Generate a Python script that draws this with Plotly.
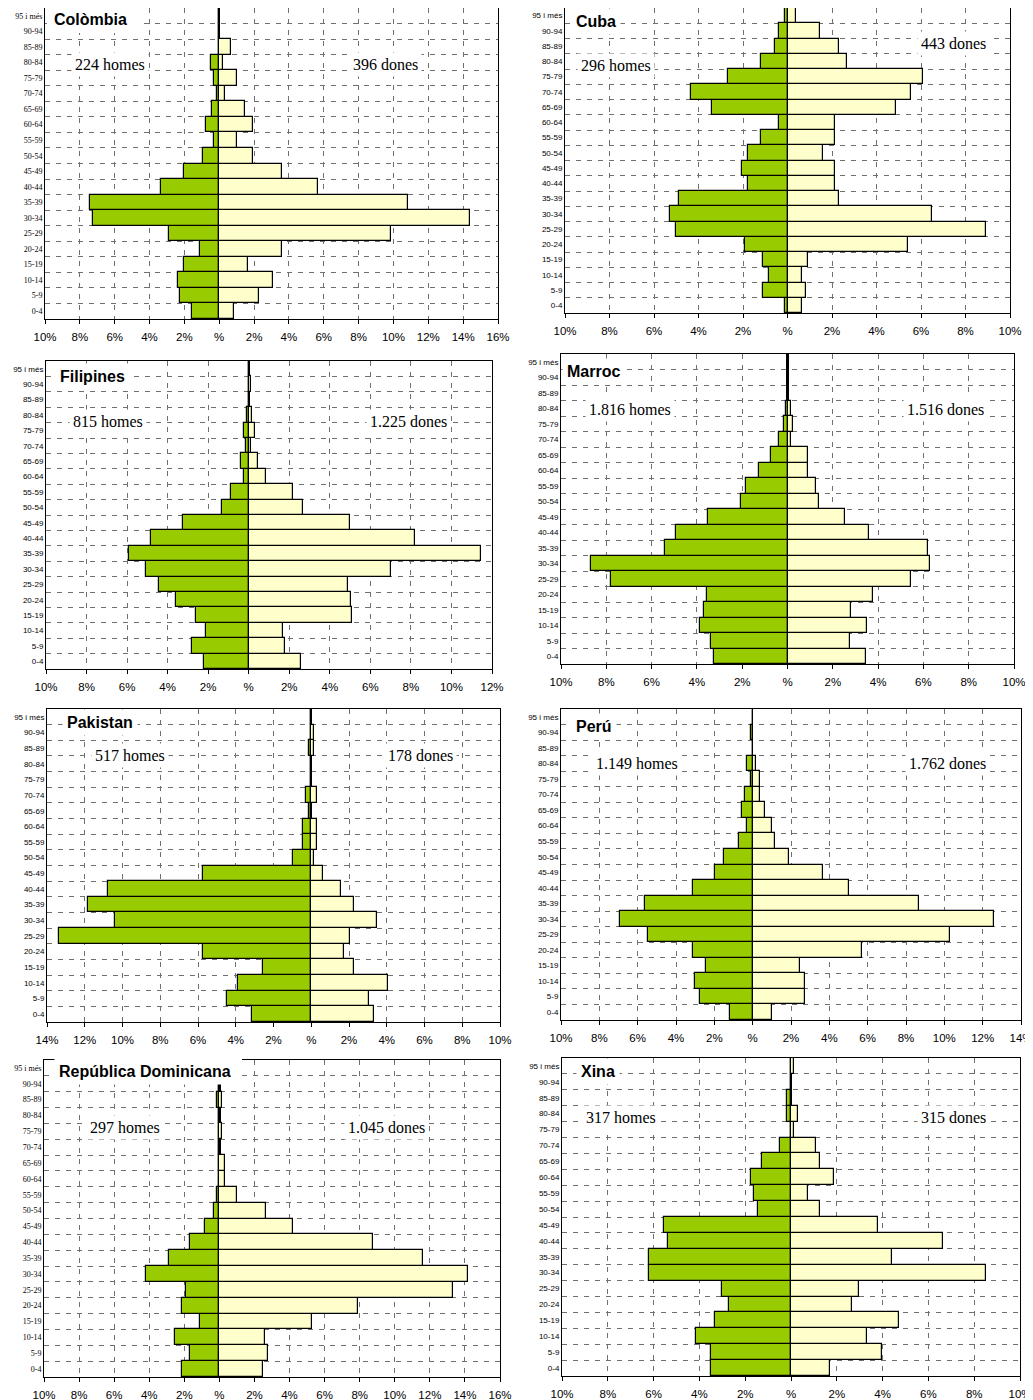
import plotly.graph_objects as go

# ---------------- DATA ----------------
edats = ["0-4", "5-9", "10-14", "15-19", "20-24", "25-29", "30-34", "35-39", "40-44",
         "45-49", "50-54", "55-59", "60-64", "65-69", "70-74", "75-79", "80-84",
         "85-89", "90-94", "95 i més"]

colombia_homes = [1.59, 2.24, 2.39, 2.05, 1.09, 2.87, 7.26, 7.41, 3.33, 2.05, 0.92, 0.29, 0.77, 0.44, 0.13, 0.29, 0.48, 0, 0, 0]
colombia_dones = [0.86, 2.26, 3.10, 1.63, 3.58, 9.86, 14.40, 10.84, 5.69, 3.58, 1.95, 1.00, 1.95, 1.49, 0.33, 1.01, 0.19, 0.67, 0, 0]

cuba_homes = [0.12, 1.08, 0.81, 1.08, 1.90, 5.01, 5.28, 4.88, 1.77, 2.03, 1.77, 1.21, 0.39, 3.40, 4.34, 2.69, 1.21, 0.54, 0.39, 0.12]
cuba_dones = [0.67, 0.81, 0.67, 0.93, 5.42, 8.93, 6.49, 2.30, 2.15, 2.15, 1.60, 2.15, 2.15, 4.86, 5.56, 6.09, 2.69, 2.30, 1.48, 0.40]

filipines_homes = [2.22, 2.81, 2.09, 2.59, 3.60, 4.42, 5.07, 5.89, 4.81, 3.23, 1.33, 0.87, 0.25, 0.39, 0.15, 0.25, 0.07, 0, 0, 0]
filipines_dones = [2.59, 1.81, 1.71, 5.11, 5.06, 4.91, 7.01, 11.48, 8.19, 4.99, 2.69, 2.20, 0.87, 0.48, 0.10, 0.31, 0.18, 0.07, 0.12, 0]

marroc_homes = [3.26, 3.37, 3.87, 3.69, 3.56, 7.81, 8.69, 5.41, 4.93, 3.53, 2.04, 1.84, 1.24, 0.71, 0.38, 0.15, 0.06, 0, 0, 0]
marroc_dones = [3.46, 2.74, 3.49, 2.79, 3.78, 5.44, 6.29, 6.19, 3.62, 2.54, 1.41, 1.25, 0.90, 0.90, 0.15, 0.26, 0.15, 0, 0, 0]

pakistan_homes = [3.14, 4.46, 3.88, 2.56, 5.74, 13.38, 10.38, 11.81, 10.78, 5.74, 0.99, 0.42, 0.42, 0.10, 0.28, 0, 0, 0.14, 0, 0]
pakistan_dones = [3.32, 3.04, 4.04, 2.29, 1.73, 2.03, 3.48, 2.29, 1.59, 0.60, 0.16, 0.30, 0.30, 0, 0.30, 0, 0, 0.16, 0.16, 0]

peru_homes = [1.16, 2.76, 2.99, 2.43, 3.13, 5.47, 6.91, 5.63, 3.09, 1.95, 1.51, 0.71, 0.31, 0.57, 0.38, 0.10, 0.28, 0, 0.08, 0]
peru_dones = [1.02, 2.71, 2.71, 2.48, 5.68, 10.30, 12.61, 8.67, 5.05, 3.68, 1.89, 1.16, 1.02, 0.63, 0.38, 0.40, 0.17, 0, 0, 0]

rdominicana_homes = [2.13, 1.69, 2.51, 1.10, 2.13, 1.92, 4.17, 2.87, 1.69, 0.80, 0.29, 0.13, 0, 0, 0, 0, 0, 0.12, 0, 0]
rdominicana_dones = [2.47, 2.78, 2.62, 5.29, 7.91, 13.33, 14.17, 11.62, 8.73, 4.20, 2.68, 0.99, 0.32, 0.32, 0, 0.15, 0, 0.15, 0, 0]

xina_homes = [3.48, 3.48, 4.13, 3.34, 2.70, 3.02, 6.18, 6.18, 5.39, 5.55, 1.43, 1.60, 1.75, 1.28, 0.48, 0, 0.16, 0.16, 0, 0]
xina_dones = [1.72, 3.96, 3.31, 4.72, 2.65, 2.97, 8.53, 4.40, 6.62, 3.78, 1.25, 0.76, 1.88, 1.25, 1.08, 0.15, 0.31, 0, 0, 0.15]

paisos = ["Colòmbia", "Cuba", "Filipines", "Marroc", "Pakistan", "Perú", "República Dominicana", "Xina"]
etiquetes_homes = ["224 homes", "296 homes", "815 homes", "1.816 homes", "517 homes", "1.149 homes", "297 homes", "317 homes"]
etiquetes_dones = ["396 dones", "443 dones", "1.225 dones", "1.516 dones", "178 dones", "1.762 dones", "1.045 dones", "315 dones"]
rang_x = [(-10, 16), (-10, 10), (-10, 12), (-10, 10), (-14, 10), (-10, 14), (-10, 16), (-10, 10)]

homes = [colombia_homes, cuba_homes, filipines_homes, marroc_homes,
         pakistan_homes, peru_homes, rdominicana_homes, xina_homes]
dones = [colombia_dones, cuba_dones, filipines_dones, marroc_dones,
         pakistan_dones, peru_dones, rdominicana_dones, xina_dones]

# ---------------- LAYOUT (pixel geometry in the page) ----------------
OFF = 8                      # default page margin around the figure
W, H = 1033 - OFF, 1400 - OFF
# plot area: left, right, top, bottom (page px)
areas = [(45, 498, 8, 319), (565, 1010, 8, 313),
         (46, 492, 361, 669), (561, 1014, 354, 664),
         (47, 500, 709, 1022), (561, 1021, 709, 1020),
         (44, 500, 1060, 1377), (562, 1020, 1058, 1376)]
# title (left x, center y), homes (center x, y), dones (center x, y)
pos_titol = [(49, 20), (571, 21), (55, 376), (562, 371), (62, 722), (571, 726), (54, 1071), (576, 1071)]
pos_homes = [(110, 64), (616, 66), (108, 421), (630, 410), (130, 755), (637, 763), (125, 1127), (621, 1117)]
pos_dones = [(385, 64), (953, 44), (408, 421), (945, 410), (420, 755), (947, 763), (386, 1127), (953, 1117)]
serif_y = [True, False, False, False, False, False, True, False]
zero_w = [1, 2, 2, 2.5, 1, 1, 2.5, 1]


def px(x):
    return min(1.0, max(0.0, (x - OFF) / W))


def py(y):
    return min(1.0, max(0.0, 1 - (y - OFF) / H))


VERD = "#99CC00"
GROC = "#FFFFCC"
GRID = "#707070"

fig = go.Figure()
annotations = []
shapes = []

for i, pais in enumerate(paisos):
    n = i + 1
    xa = "x" if n == 1 else f"x{n}"
    ya = "y" if n == 1 else f"y{n}"
    fig.add_trace(go.Bar(
        y=edats, x=[-v for v in homes[i]], orientation="h",
        marker=dict(color=VERD, line=dict(color="black", width=1.2)),
        xaxis=xa, yaxis=ya, showlegend=False, hoverinfo="skip"))
    fig.add_trace(go.Bar(
        y=edats, x=dones[i], orientation="h",
        marker=dict(color=GROC, line=dict(color="black", width=1.2)),
        xaxis=xa, yaxis=ya, showlegend=False, hoverinfo="skip"))

    l, r, t, b = areas[i]
    lo, hi = rang_x[i]
    tv = list(range(lo, hi + 1, 2))
    tt = [f"{abs(v)}%" if v != 0 else "%" for v in tv]
    xkey = "xaxis" if n == 1 else f"xaxis{n}"
    ykey = "yaxis" if n == 1 else f"yaxis{n}"
    fig.layout[xkey] = dict(
        domain=[px(l), px(r)], anchor=ya, range=[lo, hi], automargin=False,
        tickvals=tv, ticktext=tt, ticks="outside", ticklen=4, tickcolor="black",
        ticklabelstandoff=3,
        tickfont=dict(family="Liberation Sans, Arial", size=11.5, color="black"),
        showgrid=True, gridcolor=GRID, griddash="5px,6px", gridwidth=1,
        zeroline=True, zerolinecolor="black", zerolinewidth=zero_w[i],
        showline=True, linecolor="black", linewidth=1, mirror=True,
        fixedrange=True)
    fig.layout[ykey] = dict(
        domain=[py(b), py(t)], anchor=xa, type="category", automargin=False,
        categoryorder="array", categoryarray=edats, range=[-0.5, len(edats) - 0.5],
        tickson="boundaries", ticks="", showgrid=True, gridcolor=GRID,
        griddash="5px,6px", gridwidth=1,
        tickfont=dict(family=("Liberation Serif, Times New Roman" if serif_y[i] else "Liberation Sans, Arial"),
                      size=8, color="black"),
        showline=True, linecolor="black", linewidth=1, mirror=True,
        fixedrange=True)

    tx, ty = pos_titol[i]
    annotations.append(dict(
        text=f"<b>{pais}</b>", xref="paper", yref="paper",
        x=px(tx), y=py(ty), xanchor="left", yanchor="middle", showarrow=False,
        font=dict(family="Liberation Sans, Arial", size=16, color="black"),
        bgcolor="white", borderpad=4))
    hx, hy = pos_homes[i]
    annotations.append(dict(
        text=etiquetes_homes[i], xref="paper", yref="paper",
        x=px(hx), y=py(hy), xanchor="center", yanchor="middle", showarrow=False,
        font=dict(family="Liberation Serif, Times New Roman", size=16, color="black"),
        bgcolor="white", borderpad=3))
    dx, dy = pos_dones[i]
    annotations.append(dict(
        text=etiquetes_dones[i], xref="paper", yref="paper",
        x=px(dx), y=py(dy), xanchor="center", yanchor="middle", showarrow=False,
        font=dict(family="Liberation Serif, Times New Roman", size=16, color="black"),
        bgcolor="white", borderpad=3))

# white boxes behind titles that break the top border (Colòmbia, República Dominicana)
shapes.append(dict(type="rect", xref="paper", yref="paper", layer="above",
                   x0=px(47), x1=px(143), y0=py(33), y1=1.0,
                   fillcolor="white", line=dict(width=0)))
shapes.append(dict(type="rect", xref="paper", yref="paper", layer="above",
                   x0=px(55), x1=px(242), y0=py(1080), y1=py(1055),
                   fillcolor="white", line=dict(width=0)))

fig.update_layout(
    width=W, height=H, margin=dict(l=0, r=0, t=0, b=0, autoexpand=False),
    paper_bgcolor="white", plot_bgcolor="white",
    barmode="overlay", bargap=0,
    annotations=annotations, shapes=shapes,
    font=dict(family="Liberation Sans, Arial", color="black"))

fig.write_html("out.html")
